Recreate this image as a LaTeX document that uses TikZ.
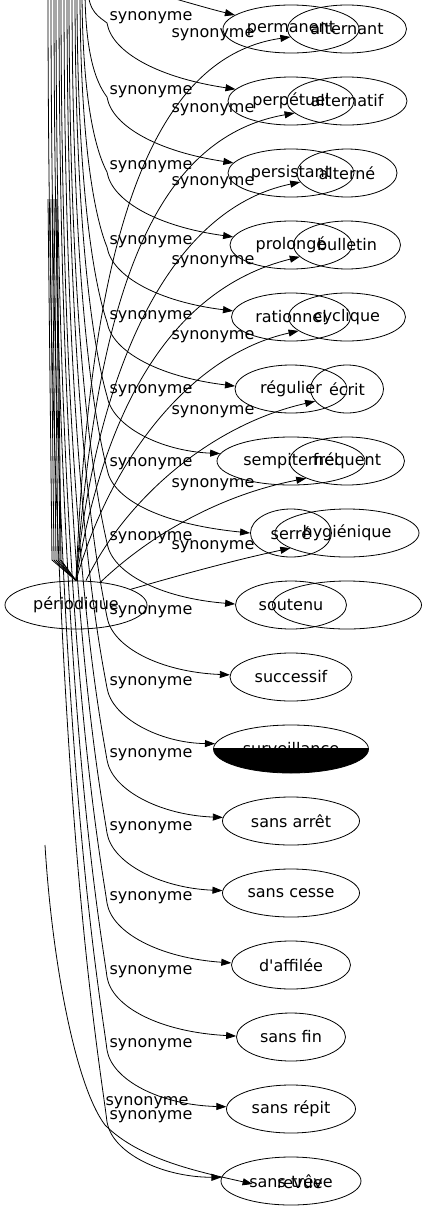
\documentclass[tikz,border=0pt]{standalone}
\usepackage{fontspec}
\setmainfont{DejaVu Sans}
\usepackage{tikz}
\usetikzlibrary{shapes.geometric, arrows.meta, positioning}
\tikzstyle{word} = [ellipse, draw=black, minimum height=48pt, inner sep=0pt, font=\fontsize{16}{18}\selectfont]
\tikzstyle{rel} = [inner sep=0pt, font=\fontsize{16}{18}\selectfont]
\tikzstyle{arrow} = [-{Triangle[length=10pt,width=7pt]}]

\begin{document}
\begin{tikzpicture}[x=1pt, y=-1pt, line width=0.8pt]
    \useasboundingbox (0,0) rectangle (426,1211);
    \clip (0,0) rectangle (426,1211);

    \node (periodique) [word, minimum width=142] at (76,605) {périodique};

    % first column of synonyms
    \foreach \n/\t/\w [count=\i from 0] in {permanent/permanent/136, perpetuel/perpétuel/126, persistant/persistant/126, prolonge/prolongé/122, rationnel/rationnel/119, regulier/régulier/112, sempiternel/sempiternel/148, serre/serré/81, soutenu/soutenu/111, successif/successif/122, surveillance/surveillance/155, sansarret/sans arrêt/137, sanscesse/sans cesse/137, daffilee/d\textquotesingle affilée/119, sansfin/sans fin/109, sansrepit/sans répit/129, sanstreve/sans trêve/140} {
        \node (\n) [word, minimum width=\w] at (291, 29+72*\i) {\t};
    }

    % second column, drawn over the first
    \foreach \n/\t/\w [count=\i from 0] in {alternant/alternant/119, alternatif/alternatif/120, alterne/alterné/100, bulletin/bulletin/107, cyclique/cyclique/117, ecrit/écrit/73, frequent/fréquent/115, hygienique/hygiénique/144, vide/{}/149} {
        \node (\n) [word, minimum width=\w] at (347, 29+72*\i) {\t};
    }
    \node (revue) [rel, minimum width=94] at (300,1184) {revue};

    % half black node
    \begin{scope}
        \clip (200,748) rectangle (380,780);
        \fill [black] (surveillance.center) ellipse [x radius=77.5, y radius=24];
    \end{scope}

    % edges coming down from the top
    \coordinate (toppermanent) at (165,-4);
    \draw [arrow] (toppermanent) .. controls (190,3) and (210,9) .. (permanent.166);
    \foreach \n/\ly/\xa/\ang in {perpetuel/18/88/168, persistant/92/85/170, prolonge/167/82/172, rationnel/242/80/174, regulier/317/77/177, sempiternel/391/75/174, serre/464/72/180, soutenu/538/69/179, successif/612/67/178, surveillance/683/64/176, sansarret/755/61/177, sanscesse/828/59/178, daffilee/898/56/178, sansfin/972/54/179, sansrepit/1045/51/178, sanstreve/1117/48/177} {
        \coordinate (top\n) at (\xa,-12);
        \node (lab\n) [rel] at (151,\ly) {synonyme};
        \draw [arrow] (top\n) .. controls (\xa,0.7*\ly) and (100,0.95*\ly) .. (107,\ly+5) .. controls (112,\ly+35) and (160,\ly+60) .. (\n.\ang);
    }

    % edges from periodique to the second column
    \foreach \n/\ly in {alternant/35, alternatif/110, alterne/183, bulletin/262, cyclique/337, ecrit/412, frequent/485, hygienique/547} {
        \node (lab\n) [rel] at (213,\ly) {synonyme};
    }
    \draw [arrow] (periodique.north) .. controls (88,300) and (130,60) .. (alternant.188);
    \draw [arrow] (periodique.north) .. controls (95,330) and (140,140) .. (alternatif.193);
    \draw [arrow] (periodique.north) .. controls (95,380) and (165,210) .. (alterne.191);
    \draw [arrow] (periodique.north) .. controls (102,420) and (165,290) .. (bulletin.194);
    \draw [arrow] (periodique.north) .. controls (110,460) and (190,355) .. (cyclique.196);
    \draw [arrow] ([xshift=10pt]periodique.north) .. controls (125,500) and (210,425) .. (ecrit.201);
    \draw [arrow] (periodique.43) .. controls (150,535) and (220,495) .. (frequent.203);
    \draw [arrow] (periodique.16) .. controls (180,575) and (235,560) .. (hygienique.195);

    % bundle above periodique
    \foreach \x in {48,50,52,54,56,57} {
        \coordinate (bundle\x) at (\x,199);
        \draw (bundle\x) -- (\x+4,560) -- (periodique.north);
    }

    % edge to revue
    \coordinate (revuestart) at (45,845);
    \node (labrevue) [rel] at (147,1103) {synonyme};
    \draw [arrow] (revuestart) .. controls (52,960) and (75,1085) .. (105,1125) .. controls (140,1160) and (200,1172) .. (revue.west);
\end{tikzpicture}
\end{document}
